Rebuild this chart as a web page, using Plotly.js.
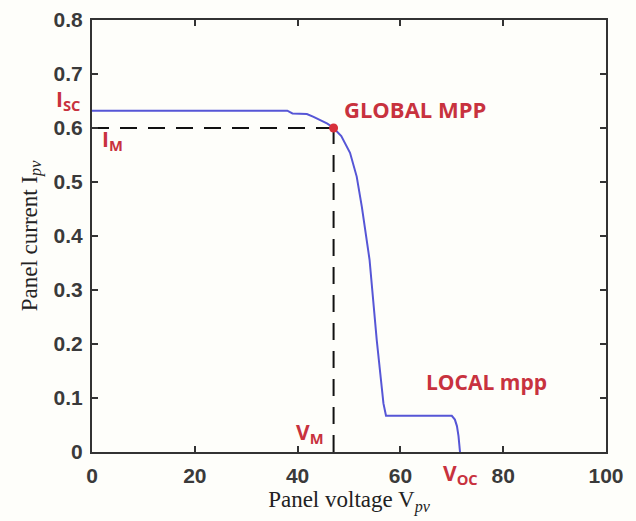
<!DOCTYPE html>
<html>
<head>
<meta charset="utf-8">
<script src="https://cdn.plot.ly/plotly-3.0.1.min.js"></script>
<style>
  html, body { margin: 0; padding: 0; background: #fefefa; }
  #chart { width: 636px; height: 521px; }
</style>
</head>
<body>
<div id="chart"></div>
<script>
// I-V characteristic of a partially shaded PV panel
const voltage = [0, 38, 39, 41.8, 43, 44.4, 45.8, 47, 48.5, 50.2, 51.5, 52.5, 53.3, 54.0, 55.4, 56.7, 57.2, 70.0, 70.6, 71.0, 71.3, 71.6];
const current = [0.632, 0.632, 0.627, 0.626, 0.621, 0.615, 0.608, 0.6, 0.585, 0.554, 0.51, 0.454, 0.40, 0.356, 0.207, 0.09, 0.067, 0.067, 0.06, 0.048, 0.03, 0];

// Global maximum power point
const mppV = [47];
const mppI = [0.6];

// Reference points named on the chart
const iSc = 0.632;
const vOc = 71.6;

const xTicks = [0, 20, 40, 60, 80, 100];
const yTicks = [0, 0.1, 0.2, 0.3, 0.4, 0.5, 0.6, 0.7, 0.8];
const xRange = [0, 100];
const yRange = [0, 0.8];

const red = '#c8323e';
const labelFont = { family: '"Open Sans", sans-serif', size: 21, color: red, weight: 700 };

// labels that sit outside the plotting area use paper coordinates
const toPaperX = v => (v - xRange[0]) / (xRange[1] - xRange[0]);
const toPaperY = v => (v - yRange[0]) / (yRange[1] - yRange[0]);

const traces = [
  { // dashed guide to I_M
    x: [0, mppV[0]], y: [mppI[0], mppI[0]], mode: 'lines',
    line: { color: '#111', width: 2, dash: '17px,11px' }, hoverinfo: 'skip'
  },
  { // dashed guide to V_M
    x: [mppV[0], mppV[0]], y: [0, mppI[0]], mode: 'lines',
    line: { color: '#111', width: 2, dash: '17px,11px' }, hoverinfo: 'skip'
  },
  {
    x: voltage, y: current, mode: 'lines',
    line: { color: '#5656d6', width: 2 }
  },
  {
    x: mppV, y: mppI, mode: 'markers',
    marker: { color: '#d8303a', size: 9 }
  }
];

const axisCommon = {
  showgrid: false, zeroline: false, showline: true, mirror: 'ticks',
  linecolor: '#333', linewidth: 2, ticks: 'inside', ticklen: 6,
  tickcolor: '#333', tickwidth: 2,
  tickfont: { family: '"Liberation Sans", Arial, sans-serif', size: 21, color: '#3a3a3a', weight: 700 }
};

const titleFont = { family: '"Liberation Serif", "Times New Roman", serif', size: 23, color: '#222' };

const label = (x, y, ref, text, font) => ({
  x: x, y: y, xref: ref[0], yref: ref[1], text: text, showarrow: false,
  xanchor: 'center', yanchor: 'middle', font: font || labelFont
});

const layout = {
  width: 636, height: 521,
  margin: { l: 92, r: 30, t: 20, b: 69 },
  paper_bgcolor: '#fefefa', plot_bgcolor: '#fefefa',
  showlegend: false,
  xaxis: Object.assign({}, axisCommon, {
    range: xRange, tickvals: xTicks, ticktext: xTicks.map(String),
    ticklabelstandoff: 4,
    title: { text: 'Panel voltage V<sub><i>pv</i></sub>', standoff: 4, font: titleFont }
  }),
  yaxis: Object.assign({}, axisCommon, {
    range: yRange, tickvals: yTicks, ticktext: yTicks.map(String),
    ticklabelstandoff: 3,
    title: { text: 'Panel current I<sub><i>pv</i></sub>', standoff: 10, font: titleFont }
  }),
  annotations: [
    label(toPaperX(-4.6), toPaperY(iSc + 0.02), ['paper', 'paper'], 'I<sub>SC</sub>'),
    label(4.0, 0.577, ['x', 'y'], 'I<sub>M</sub>'),
    label(62.8, 0.635, ['x', 'y'], 'GLOBAL MPP', Object.assign({}, labelFont, { size: 22 })),
    label(76.8, 0.13, ['x', 'y'], 'LOCAL mpp'),
    label(42.4, 0.035, ['x', 'y'], 'V<sub>M</sub>'),
    label(toPaperX(vOc), toPaperY(-0.04), ['paper', 'paper'], 'V<sub>OC</sub>')
  ]
};

Plotly.newPlot('chart', traces, layout, { displayModeBar: false, staticPlot: true });
</script>
</body>
</html>
